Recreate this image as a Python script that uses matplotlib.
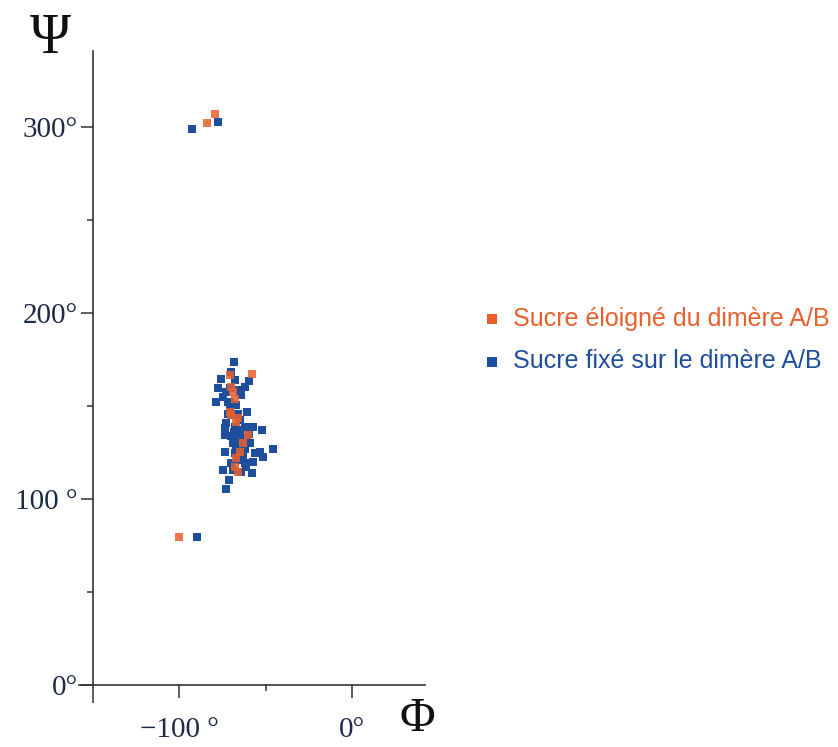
import matplotlib.pyplot as plt
from matplotlib.ticker import FixedLocator

# Phi / Psi angles (degrees)
# sugar fixed on the A/B dimer (blue)
fixe_phi = [-92.6, -77.4, -90.0,
            -68.4, -69.9, -75.8, -77.7, -78.7, -62.2, -59.7, -64.1, -65.5,
            -68.0, -72.8, -74.8, -71.9, -70.9, -67.0, -60.9, -69.0, -65.1,
            -72.8, -73.8, -73.8, -68.0, -62.2, -57.4, -52.5, -66.1, -61.2,
            -59.3, -69.0, -65.1, -73.8, -68.0, -63.2, -56.4, -53.5, -51.6,
            -45.8, -66.1, -57.4, -69.9, -74.8, -69.0, -61.2, -58.3, -71.3,
            -73.3, -64.1, -62.2, -64.0, -67.0, -62.0, -65.0, -70.0, -63.0,
            -60.0, -71.0, -66.0, -72.0, -66.5, -64.5, -68.5, -63.5, -70.5]
fixe_psi = [299.0, 303.0, 79.4,
            173.8, 168.4, 164.4, 159.5, 152.3, 160.4, 163.4, 155.9, 158.6,
            164.0, 157.7, 155.0, 152.3, 148.8, 150.5, 146.6, 145.2, 142.5,
            140.7, 138.0, 134.4, 138.9, 138.9, 138.9, 137.1, 134.4, 132.6,
            129.9, 129.9, 129.0, 125.4, 124.6, 124.6, 124.6, 125.4, 122.7,
            126.7, 121.0, 120.1, 119.2, 115.6, 115.6, 117.4, 113.8, 110.2,
            105.4, 114.7, 119.2, 132.0, 127.0, 127.0, 137.0, 134.0, 121.0,
            135.0, 160.0, 146.0, 146.0, 131.0, 128.0, 136.0, 123.0, 152.0]

# sugar away from the A/B dimer (orange)
eloigne_phi = [-84.0, -79.2, -100.4,
               -58.3, -69.9, -69.0, -70.9, -68.0, -66.1, -67.0, -60.3,
               -63.2, -65.1, -67.0, -68.0, -66.1, -70.9, -69.9]
eloigne_psi = [302.5, 307.0, 79.4,
               167.2, 160.4, 157.7, 146.9, 154.1, 143.4, 141.6, 134.4,
               129.9, 125.4, 121.9, 117.4, 114.7, 166.7, 145.0]

x_ticks = [-150, -100, 0]
x_labels = ["", "\u2212100 \u00b0", "0\u00b0"]
y_ticks = [0, 100, 200, 300]
y_labels = ["0\u00b0", "100 \u00b0", "200\u00b0", "300\u00b0"]

ORANGE = "#e8602c"
BLUE = "#1f4e9c"
LABEL = "#1c2a48"


def main():
    fig = plt.figure(figsize=(8.38, 7.47), dpi=100)
    ax = fig.add_axes([0.0943, 0.083, 0.4129, 0.8487])

    h_blue = ax.scatter(fixe_phi, fixe_psi, marker="s", s=26, color=BLUE,
                        linewidths=0, zorder=3)
    h_orange = ax.scatter(eloigne_phi, eloigne_psi, marker="s", s=26,
                          color=ORANGE, linewidths=0, alpha=0.85, zorder=4)

    ax.set_xlim(-158, 42)
    ax.set_ylim(0, 341)

    for side in ["top", "right"]:
        ax.spines[side].set_visible(False)
    ax.spines["left"].set_position(("data", -150))
    for side in ["left", "bottom"]:
        ax.spines[side].set_linewidth(1.2)
        ax.spines[side].set_color("#333333")

    ax.xaxis.set_major_locator(FixedLocator(x_ticks))
    ax.xaxis.set_minor_locator(FixedLocator([-50]))
    ax.set_xticklabels(x_labels)
    ax.yaxis.set_major_locator(FixedLocator(y_ticks))
    ax.yaxis.set_minor_locator(FixedLocator([50, 150, 250]))
    ax.set_yticklabels(y_labels)

    ax.tick_params(which="major", direction="out", length=9, width=1.1,
                   color="#333333", labelsize=21, labelcolor=LABEL)
    ax.tick_params(which="minor", direction="out", length=4, width=1.1,
                   color="#333333")
    ax.tick_params(axis="x", pad=14)
    ax.tick_params(axis="y", pad=2)
    ax.xaxis.get_major_ticks()[0].tick1line.set_markersize(13)

    for lab in ax.get_xticklabels() + ax.get_yticklabels():
        lab.set_fontfamily("Liberation Serif")

    fig.text(0.06, 0.929, "\u03a8", fontsize=40, family="Liberation Serif",
             color="#111111", ha="center", va="baseline")
    fig.text(0.498, 0.022, "\u03a6", fontsize=35, family="Liberation Serif",
             color="#111111", ha="center", va="baseline")

    leg = ax.legend([h_orange, h_blue],
                    ["Sucre \u00e9loign\u00e9 du dim\u00e8re A/B",
                     "Sucre fix\u00e9 sur le dim\u00e8re A/B"],
                    loc="center left", bbox_to_anchor=(0.575, 0.545),
                    bbox_transform=fig.transFigure, frameon=False,
                    markerscale=1.45, handlelength=0.8, handletextpad=0.45,
                    borderpad=0, borderaxespad=0, labelspacing=0.75,
                    prop={"family": "Liberation Sans", "size": 18})
    for txt, col in zip(leg.get_texts(), [ORANGE, BLUE]):
        txt.set_color(col)
    for h in leg.legend_handles:
        h.set_alpha(1)

    fig.savefig("out.png", dpi=100)
    plt.close(fig)


if __name__ == "__main__":
    main()
